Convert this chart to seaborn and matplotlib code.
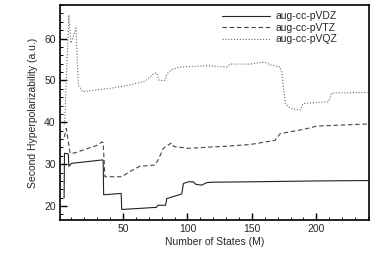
import matplotlib
matplotlib.use('agg')
import numpy as np
import pandas as pd
import matplotlib.pyplot as plt
import seaborn as sns
from matplotlib.ticker import MultipleLocator

# values
vdz_x = [4.3, 4.6, 7.5, 8, 10, 33.5, 34.6, 35, 47.7, 48.6, 49, 55, 76, 77, 83, 84, 95.6, 96.9,
         100.7, 104.6, 106.5, 111, 115, 119, 150, 200, 240]
vdz_y = [22, 32.6, 32.5, 29.5, 30.2, 31, 31, 22.7, 23, 23, 19.2, 19.3, 19.7, 20.2, 20.2, 21.8, 22.9, 25.4,
         25.8, 25.8, 25.2, 25, 25.6, 25.7, 25.8, 26, 26.1]

vtz_x = [4.5, 6, 9, 12.7, 23, 30.8, 33.5, 34.6, 36, 49, 56.8, 63, 75, 77.4, 81.3, 87.8, 89.6,
         100.7, 130.6, 148.7, 168, 172, 190, 200.5, 240]
vtz_y = [36.5, 38.5, 32.6, 32.7, 33.8, 34.6, 35.3, 35.2, 27, 27, 28.5, 29.5, 29.8, 31.1, 33.8, 35.1, 34.2,
         33.8, 34.3, 34.7, 35.7, 37.3, 38.3, 39.1, 39.6]

vqz_x = [4.5, 5, 8, 9.6, 11, 13.5, 15.3, 18.7, 42, 55.4, 61.7, 67, 73.5, 76.2, 78, 82.6, 84, 87.8,
         94, 115, 130.6, 133, 148.7, 160, 164, 172, 173.3, 176, 179.8, 187.5, 190, 195, 209.5,
         212, 240]
vqz_y = [39.5, 42, 65.6, 58.9, 60, 62.5, 48.9, 47.3, 48.2, 48.9, 49.4, 49.8, 51.5, 51.8, 50, 50, 51.5, 52.6,
         53.2, 53.5, 53.2, 53.9, 53.9, 54.4, 53.7, 53.2, 51.7, 44.5, 43.3, 42.9, 44.5, 44.6, 44.9,
         47, 47.1]

labels = ['aug-cc-pVDZ', 'aug-cc-pVTZ', 'aug-cc-pVQZ']

sns.set_style('ticks')
plt.rcParams['font.family'] = ['Liberation Sans', 'DejaVu Sans']
plt.rcParams['font.size'] = 7.5

fig = plt.figure(figsize=(3.74, 2.64), dpi=100)
ax = fig.add_axes([0.160, 0.167, 0.827, 0.814])

series = [(vdz_x, vdz_y, '-', '#222222'),
          (vtz_x, vtz_y, (0, (4, 2.5)), '#444444'),
          (vqz_x, vqz_y, (0, (1, 1.6)), '#666666')]
for (xs, ys, ls, col), lab in zip(series, labels):
    df = pd.DataFrame({'M': xs, 'gamma': ys})
    sns.lineplot(data=df, x='M', y='gamma', ax=ax, sort=False, estimator=None,
                 color=col, linestyle=ls, linewidth=0.8, label=lab)

ax.set_xlim(1, 241)
ax.set_ylim(16.7, 68)
ax.xaxis.set_major_locator(MultipleLocator(50))
ax.xaxis.set_minor_locator(MultipleLocator(10))
ax.yaxis.set_major_locator(MultipleLocator(10))
ax.yaxis.set_minor_locator(MultipleLocator(2))
ax.tick_params(which='both', direction='in', top=False, right=False, labelsize=7.5, color='black', pad=3)
ax.tick_params(which='major', length=5, width=1)
ax.tick_params(which='minor', length=2.5, width=0.7)
for s in ax.spines.values():
    s.set_linewidth(1.2)
    s.set_color('black')

ax.set_xlabel('Number of States (M)', fontsize=7.5, labelpad=2)
ax.set_ylabel('Second Hyperpolarizability (a.u.)', fontsize=7.5, labelpad=4)

ax.legend(loc='upper right', bbox_to_anchor=(0.91, 0.99), frameon=False, fontsize=7.5,
          handlelength=4.6, handletextpad=0.5, labelspacing=0.15, borderaxespad=0.2, borderpad=0.2)

fig.savefig('out.png', dpi=100)
